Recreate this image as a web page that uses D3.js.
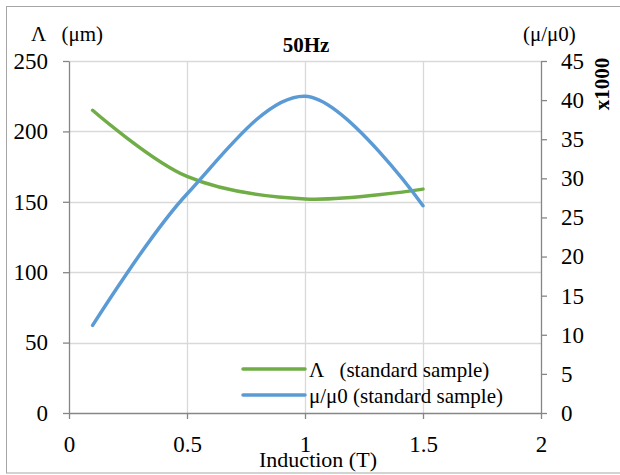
<!DOCTYPE html>
<html>
<head>
<meta charset="utf-8">
<script src="https://cdn.jsdelivr.net/npm/d3@7"></script>
<style>
  body { margin: 0; background: #fff; }
  text { font-family: "Liberation Serif", "Times New Roman", serif; fill: #000; white-space: pre; }
</style>
</head>
<body>
<svg id="chart" width="620" height="475"></svg>
<script>
// data
var induction = [0.1, 0.5, 1.0, 1.5];
var lambda = [215, 168, 152, 159];        // left axis, µm
var permeability = [11.2, 28.0, 40.5, 26.5]; // right axis, x1000
var xTicks = [0, 0.5, 1, 1.5, 2];
var leftTicks = [0, 50, 100, 150, 200, 250];
var rightTicks = [0, 5, 10, 15, 20, 25, 30, 35, 40, 45];

var svg = d3.select("#chart");

var plotLeft = 69, plotRight = 541, plotTop = 61, plotBottom = 413;

var x = d3.scaleLinear().domain([0, 2]).range([plotLeft, plotRight]);
var yL = d3.scaleLinear().domain([0, 250]).range([plotBottom, plotTop]);
var yR = d3.scaleLinear().domain([0, 45]).range([plotBottom, plotTop]);

// outer frame
svg.append("rect")
   .attr("x", 6.5).attr("y", 6.5)
   .attr("width", 620).attr("height", 466.5)
   .attr("fill", "none")
   .attr("stroke", "#a6a6a6")
   .attr("stroke-width", 1);

// gridlines
svg.append("g").selectAll("line")
   .data(leftTicks.slice(1))
   .enter().append("line")
   .attr("x1", plotLeft).attr("x2", plotRight)
   .attr("y1", function(d) { return Math.round(yL(d)) + 0.5; })
   .attr("y2", function(d) { return Math.round(yL(d)) + 0.5; })
   .attr("stroke", "#d9d9d9").attr("stroke-width", 1.3);

svg.append("g").selectAll("line")
   .data(xTicks.slice(1, -1))
   .enter().append("line")
   .attr("x1", function(d) { return Math.round(x(d)) + 0.5; })
   .attr("x2", function(d) { return Math.round(x(d)) + 0.5; })
   .attr("y1", plotTop).attr("y2", plotBottom)
   .attr("stroke", "#d9d9d9").attr("stroke-width", 1.3);

// axes
function styleAxis(g) {
    g.attr("font-family", null).attr("font-size", null);
    g.select(".domain").attr("stroke", "#868686").attr("stroke-width", 1.3);
    g.selectAll(".tick line").attr("stroke", "#868686").attr("stroke-width", 1.3);
    g.selectAll(".tick text")
     .style("font-size", "23px")
     .attr("fill", "#000");
}

svg.append("g")
   .attr("transform", "translate(0," + plotBottom + ")")
   .call(d3.axisBottom(x).tickValues(xTicks).tickSize(6).tickSizeOuter(0).tickPadding(17)
       .tickFormat(function(d) { return "" + d; }))
   .call(styleAxis);

svg.append("g")
   .attr("transform", "translate(" + plotLeft + ",0)")
   .call(d3.axisLeft(yL).tickValues(leftTicks).tickSize(6).tickSizeOuter(0).tickPadding(15))
   .call(styleAxis);

svg.append("g")
   .attr("transform", "translate(" + plotRight + ",0)")
   .call(d3.axisRight(yR).tickValues(rightTicks).tickSize(6).tickSizeOuter(0).tickPadding(14))
   .call(styleAxis);

// lines
var lineL = d3.line()
    .x(function(d, i) { return x(induction[i]); })
    .y(function(d) { return yL(d); })
    .curve(d3.curveCatmullRom.alpha(0.5));

var lineR = d3.line()
    .x(function(d, i) { return x(induction[i]); })
    .y(function(d) { return yR(d); })
    .curve(d3.curveCatmullRom.alpha(0.5));

svg.append("path")
   .datum(lambda)
   .attr("d", lineL)
   .attr("fill", "none")
   .attr("stroke", "#70ad47")
   .attr("stroke-width", 3.5)
   .attr("stroke-linecap", "round");

svg.append("path")
   .datum(permeability)
   .attr("d", lineR)
   .attr("fill", "none")
   .attr("stroke", "#5b9bd5")
   .attr("stroke-width", 3.5)
   .attr("stroke-linecap", "round");

// titles
svg.append("text")
   .attr("x", 306).attr("y", 52)
   .attr("text-anchor", "middle")
   .attr("font-size", "21px")
   .attr("font-weight", "bold")
   .text("50Hz");

svg.append("text")
   .attr("x", 31).attr("y", 41)
   .attr("font-size", "21px")
   .text("\u039B   (\u03BCm)");

svg.append("text")
   .attr("x", 523).attr("y", 41)
   .attr("font-size", "21px")
   .text("(\u03BC/\u03BC0)");

svg.append("text")
   .attr("transform", "translate(609,84) rotate(-90)")
   .attr("text-anchor", "middle")
   .attr("font-size", "21px")
   .attr("font-weight", "bold")
   .text("x1000");

svg.append("text")
   .attr("x", 318).attr("y", 467)
   .attr("text-anchor", "middle")
   .attr("font-size", "22px")
   .text("Induction (T)");

// legend
var legend = [
    { name: "\u039B   (standard sample)", color: "#70ad47" },
    { name: "\u03BC/\u03BC0 (standard sample)", color: "#5b9bd5" }
];

var lg = svg.append("g").attr("transform", "translate(243,369)");
lg.selectAll("line")
  .data(legend)
  .enter().append("line")
  .attr("x1", 0).attr("x2", 62)
  .attr("y1", function(d, i) { return i * 26; })
  .attr("y2", function(d, i) { return i * 26; })
  .attr("stroke", function(d) { return d.color; })
  .attr("stroke-width", 3.5)
  .attr("stroke-linecap", "round");

lg.selectAll("text")
  .data(legend)
  .enter().append("text")
  .attr("x", 66)
  .attr("y", function(d, i) { return i * 26 + 8; })
  .attr("font-size", "21px")
  .text(function(d) { return d.name; });
</script>
</body>
</html>
